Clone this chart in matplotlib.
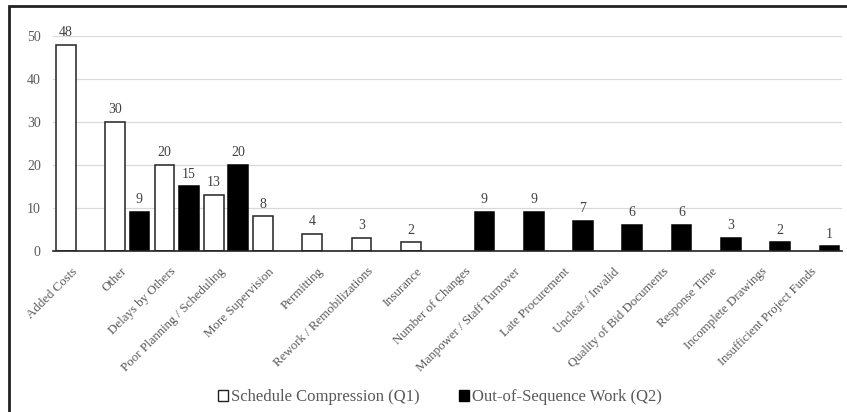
import matplotlib
matplotlib.use('Agg')
import matplotlib.pyplot as plt
from matplotlib.patches import Rectangle
from matplotlib.transforms import ScaledTranslation
import numpy as np

plt.rcParams['font.family'] = ['Liberation Serif', 'DejaVu Serif']

# data
categories = ['Added Costs', 'Other', 'Delays by Others', 'Poor Planning / Scheduling',
              'More Supervision', 'Permitting', 'Rework / Remobilizations', 'Insurance',
              'Number of Changes', 'Manpower / Staff Turnover', 'Late Procurement',
              'Unclear / Invalid', 'Quality of Bid Documents', 'Response Time',
              'Incomplete Drawings', 'Insufficient Project Funds']
q1_values = [48, 30, 20, 13, 8, 4, 3, 2, None, None, None, None, None, None, None, None]
q2_values = [None, 9, 15, 20, None, None, None, None, 9, 9, 7, 6, 6, 3, 2, 1]
q1_label = 'Schedule Compression (Q1)'
q2_label = 'Out-of-Sequence Work (Q2)'
y_ticks = [0, 10, 20, 30, 40, 50]

fig = plt.figure(figsize=(8.47, 4.12), dpi=100)
ax = fig.add_axes([0.063, 0.3915, 0.931, 0.521])

x = np.arange(len(categories))
bw = 0.4
off = 0.247

text_col = '#595959'
lab_col = '#404040'

# white series
for i, v in enumerate(q1_values):
    if v is None:
        continue
    ax.bar(x[i] - off, v, width=bw, color='white', edgecolor='#222222', linewidth=1.1, zorder=3)
    ax.text(x[i] - off, v + 1.3, str(v), ha='center', va='bottom', fontsize=10,
            color=lab_col, clip_on=False)

# black series
for i, v in enumerate(q2_values):
    if v is None:
        continue
    ax.bar(x[i] + off, v, width=bw, color='black', edgecolor='black', linewidth=1.1, zorder=3)
    ax.text(x[i] + off, v + 1.3, str(v), ha='center', va='bottom', fontsize=10,
            color=lab_col, clip_on=False)

ax.set_xlim(-0.5, len(categories) - 0.5)
ax.set_ylim(0, 50)
ax.set_yticks(y_ticks)
ax.yaxis.grid(True, color='#d9d9d9', linewidth=0.9, zorder=0)
ax.set_axisbelow(True)

for s in ['top', 'right', 'left']:
    ax.spines[s].set_visible(False)
ax.spines['bottom'].set_color('#222222')
ax.spines['bottom'].set_linewidth(1.2)
ax.spines['bottom'].set_zorder(4)

ax.set_xticks(x)
ax.set_xticklabels(categories, rotation=45, ha='right', va='top',
                   rotation_mode='anchor', fontsize=9.3, color=text_col)
ax.tick_params(axis='x', length=0, pad=6)
ax.tick_params(axis='y', length=0, pad=9, labelsize=10, labelcolor=text_col)

# nudge rotated labels so their ends sit under the category centre
shift = ScaledTranslation(-0.07, -0.065, fig.dpi_scale_trans)
for lbl in ax.get_xticklabels():
    lbl.set_transform(lbl.get_transform() + shift)

# legend
h1 = Rectangle((0, 0), 1, 1, facecolor='white', edgecolor='#222222', linewidth=1.0)
h2 = Rectangle((0, 0), 1, 1, facecolor='black', edgecolor='black', linewidth=1.0)
leg = fig.legend([h1, h2], [q1_label, q2_label], loc='center', ncol=2,
                 bbox_to_anchor=(0.5195, 0.036), frameon=False, fontsize=12,
                 handlelength=0.6, handleheight=0.6, handletextpad=0.15,
                 columnspacing=2.4)
for t in leg.get_texts():
    t.set_color(text_col)

# outer border (only top and left are inside the image)
border = Rectangle((9 / 847, -0.5), 1.5, 0.5 + (412 - 6) / 412, transform=fig.transFigure,
                   fill=False, edgecolor='#222222', linewidth=2.0)
fig.patches.append(border)

fig.savefig('out.png', dpi=100)
